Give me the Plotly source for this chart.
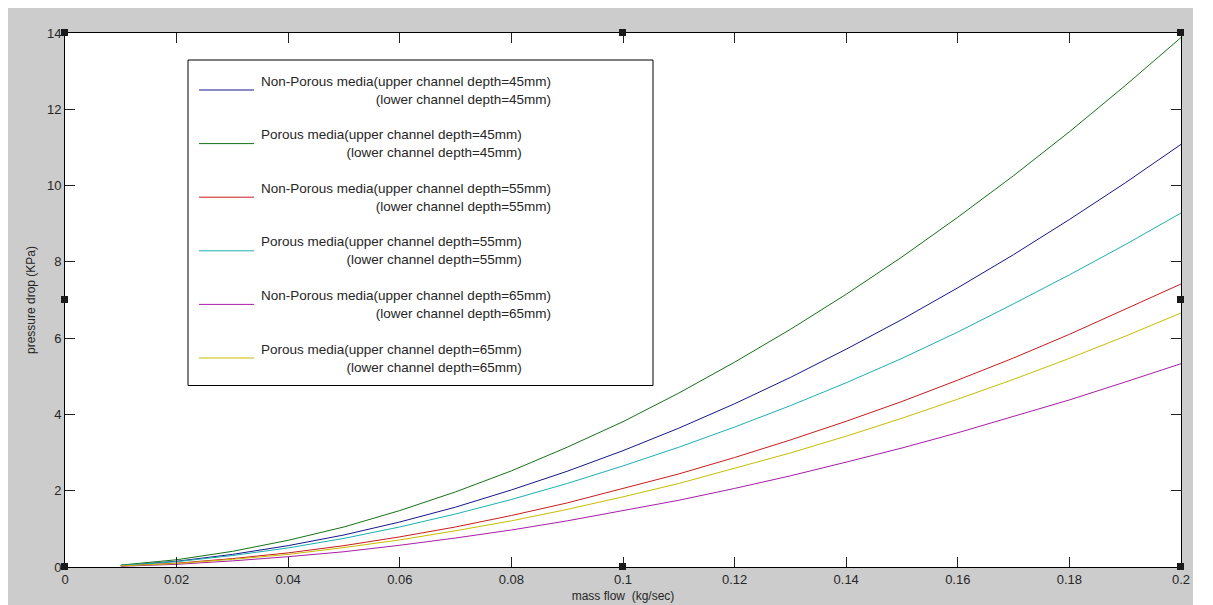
import plotly.graph_objects as go

# ---------------- data ----------------
mass_flow = [0.01, 0.02, 0.03, 0.04, 0.05, 0.06, 0.07, 0.08, 0.09, 0.10,
             0.11, 0.12, 0.13, 0.14, 0.15, 0.16, 0.17, 0.18, 0.19, 0.20]

nonporous_45 = [0.04, 0.15, 0.33, 0.56, 0.84, 1.18, 1.57, 2.02, 2.51, 3.05,
                3.64, 4.28, 4.97, 5.71, 6.49, 7.32, 8.19, 9.11, 10.07, 11.08]
porous_45 = [0.05, 0.19, 0.41, 0.70, 1.05, 1.48, 1.97, 2.52, 3.14, 3.81,
             4.56, 5.37, 6.23, 7.15, 8.13, 9.17, 10.26, 11.41, 12.62, 13.88]
nonporous_55 = [0.03, 0.10, 0.22, 0.37, 0.56, 0.79, 1.05, 1.35, 1.68, 2.05,
                2.44, 2.87, 3.33, 3.82, 4.34, 4.90, 5.48, 6.10, 6.75, 7.42]
porous_55 = [0.04, 0.14, 0.30, 0.50, 0.75, 1.05, 1.39, 1.77, 2.19, 2.65,
             3.14, 3.67, 4.23, 4.83, 5.47, 6.16, 6.90, 7.66, 8.45, 9.28]
nonporous_65 = [0.02, 0.07, 0.16, 0.27, 0.40, 0.57, 0.76, 0.97, 1.21, 1.47,
                1.75, 2.06, 2.39, 2.75, 3.12, 3.52, 3.94, 4.38, 4.85, 5.33]
porous_65 = [0.03, 0.09, 0.20, 0.33, 0.51, 0.71, 0.95, 1.21, 1.51, 1.84,
             2.19, 2.58, 2.99, 3.43, 3.90, 4.40, 4.92, 5.47, 6.05, 6.66]

series_values = [nonporous_45, porous_45, nonporous_55, porous_55, nonporous_65, porous_65]
series_line1 = [
    "Non-Porous media(upper channel depth=45mm)",
    "Porous media(upper channel depth=45mm)",
    "Non-Porous media(upper channel depth=55mm)",
    "Porous media(upper channel depth=55mm)",
    "Non-Porous media(upper channel depth=65mm)",
    "Porous media(upper channel depth=65mm)",
]
series_line2 = [
    "(lower channel depth=45mm)",
    "(lower channel depth=45mm)",
    "(lower channel depth=55mm)",
    "(lower channel depth=55mm)",
    "(lower channel depth=65mm)",
    "(lower channel depth=65mm)",
]
series_colors = ["#16168c", "#167216", "#c81c1c", "#1cb0b0", "#a81ca8", "#c8bc00"]

x_ticks = [0, 0.02, 0.04, 0.06, 0.08, 0.1, 0.12, 0.14, 0.16, 0.18, 0.2]
x_ticklabels = ["0", "0.02", "0.04", "0.06", "0.08", "0.1", "0.12", "0.14", "0.16", "0.18", "0.2"]
y_ticks = [0, 2, 4, 6, 8, 10, 12, 14]
y_ticklabels = ["0", "2", "4", "6", "8", "10", "12", "14"]

x_title = "mass flow\u00a0 (kg/sec)"
y_title = "pressure drop (KPa)"

# ---------------- geometry ----------------
# the page body has an 8px margin; the figure is sized so that the
# plot area lands where it is in the reference window
OFF = 8
W, H = 1205, 597
ML, MR, MT, MB = 57, 32, 25, 38
PW = W - ML - MR
PH = H - MT - MB


def px(xp):
    """page x pixel -> paper x"""
    return (xp - OFF - ML) / PW


def py(yp):
    """page y pixel -> paper y"""
    return (H - MB - (yp - OFF)) / PH


FONT = "Liberation Sans, Arial, sans-serif"
TXT = "#262626"

fig = go.Figure()
for vals, name, col in zip(series_values, series_line1, series_colors):
    fig.add_trace(go.Scatter(x=mass_flow, y=vals, mode="lines", name=name,
                             line=dict(color=col, width=1), showlegend=False))

shapes = []
# grey figure background (white strip on the right comes from the page)
shapes.append(dict(type="rect", xref="paper", yref="paper", layer="below",
                   x0=px(OFF), x1=px(1193), y0=py(605), y1=py(OFF),
                   fillcolor="#cccccc", line=dict(width=0)))
shapes.append(dict(type="rect", xref="paper", yref="paper", layer="below",
                   x0=0, x1=1, y0=0, y1=1, fillcolor="white", line=dict(width=0)))

# legend box
shapes.append(dict(type="rect", xref="paper", yref="paper", layer="above",
                   x0=px(188), x1=px(653), y0=py(385.5), y1=py(60),
                   fillcolor="white", line=dict(color="black", width=1)))

annotations = []
for i, (l1, l2, col) in enumerate(zip(series_line1, series_line2, series_colors)):
    cy = 90 + i * 53.6
    shapes.append(dict(type="line", xref="paper", yref="paper", layer="above",
                       x0=px(199), x1=px(254), y0=py(cy), y1=py(cy),
                       line=dict(color=col, width=1)))
    annotations.append(dict(xref="paper", yref="paper", x=px(259), y=py(cy),
                            xanchor="left", yanchor="middle", align="right",
                            showarrow=False, text=l1 + "<br>" + l2,
                            font=dict(family=FONT, size=13.5, color=TXT)))

# selection handles (small black squares)
for hx, hy in [(0, 0), (0.5, 0), (1, 0), (0, 0.5), (1, 0.5), (0, 1), (0.5, 1), (1, 1)]:
    shapes.append(dict(type="rect", xref="paper", yref="paper", layer="above",
                       xsizemode="pixel", ysizemode="pixel",
                       xanchor=hx, yanchor=hy, x0=-4, x1=3, y0=-3, y1=4,
                       fillcolor="#1a1a1a", line=dict(width=0)))

axis_common = dict(showgrid=False, zeroline=False, showline=True, linecolor="black",
                   linewidth=1, mirror="ticks", ticks="inside", ticklen=10,
                   tickcolor="#222222", tickwidth=1,
                   tickfont=dict(family=FONT, size=13, color=TXT))

fig.update_layout(
    width=W, height=H,
    margin=dict(l=ML, r=MR, t=MT, b=MB, autoexpand=False),
    paper_bgcolor="white", plot_bgcolor="white",
    shapes=shapes, annotations=annotations,
    xaxis=dict(range=[0, 0.2], tickvals=x_ticks, ticktext=x_ticklabels,
               title=dict(text=x_title, standoff=6,
                          font=dict(family=FONT, size=12, color=TXT)),
               **axis_common),
    yaxis=dict(range=[0, 14], tickvals=y_ticks, ticktext=y_ticklabels,
               title=dict(text=y_title, standoff=8,
                          font=dict(family=FONT, size=12, color=TXT)),
               **axis_common),
)

fig.write_html("out.html")
